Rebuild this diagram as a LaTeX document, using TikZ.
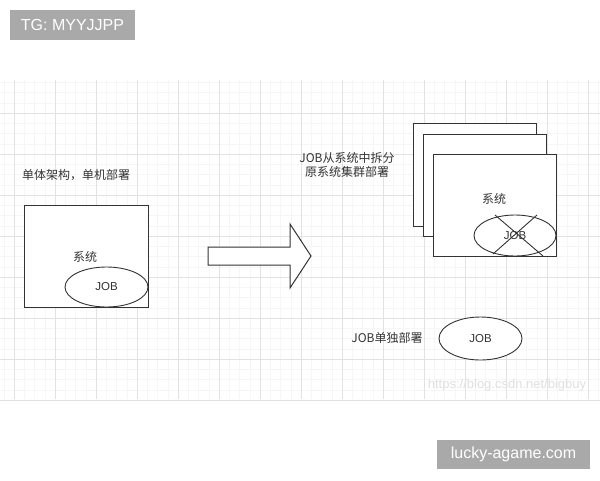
\documentclass[tikz,border=0pt]{standalone}
\usepackage{fontspec}
\setmainfont{Liberation Sans}
\newfontfamily\cjk{Noto Sans CJK SC}
\definecolor{tagfill}{HTML}{A9A9A9}
\definecolor{gridmajor}{HTML}{E2E2E2}
\definecolor{gridminor}{HTML}{F6F6F6}
\definecolor{inkline}{HTML}{333333}
\tikzset{
  sysbox/.style={draw=inkline, line width=1pt, fill=white, inner sep=0pt},
  jobshape/.style={ellipse, draw=inkline, line width=0.9pt, fill=white, inner sep=0pt,
    font=\fontsize{11.5}{13}\selectfont, text=inkline},
  cnlabel/.style={font=\fontsize{12}{14}\selectfont\cjk, text=inkline, inner sep=0pt},
  tagbox/.style={fill=tagfill, text=white, inner sep=0pt, font=\fontsize{16}{18}\selectfont},
}
\usetikzlibrary{shapes.geometric}
\begin{document}
\begin{tikzpicture}[x=1pt,y=-1pt]
      \useasboundingbox (0,0) rectangle (600,480);
      \fill[white] (0,0) rectangle (600,480);
      \begin{scope}[line width=0.4pt]
        \foreach \i in {-1,...,57}
          \draw[gridminor] ({14+10.25*\i},80) -- ({14+10.25*\i},399);
        \foreach \i in {-3,...,27}
          \draw[gridminor] (0,{113+10.25*\i}) -- (600,{113+10.25*\i});
      \end{scope}
      \begin{scope}[line width=0.6pt]
        \foreach \gx in {14,55,...,588}
          \draw[gridmajor] (\gx,80) -- (\gx,399);
        \foreach \gy in {113,154,...,400}
          \draw[gridmajor] (0,\gy) -- (600,\gy);
      \end{scope}
      \node[tagbox, minimum width=125pt, minimum height=30pt] (tag) at (72.5,25) {TG: MYYJJPP};
      \node[tagbox, minimum width=153pt, minimum height=29pt] (site) at (513.5,454.5) {lucky-agame.com};
      \node[font=\fontsize{13}{15}\selectfont, text=black!12] (mark) at (507,385) {https://blog.csdn.net/bigbuy};
      \node[cnlabel] (mono) at (76,175) {单体架构，单机部署};
      \node[sysbox, minimum width=124pt, minimum height=102pt] (sys) at (86,256) {};
      \node[cnlabel] (systxt) at (85,257) {系统};
      \node[jobshape, minimum width=83pt, minimum height=40pt] (job) at (106.5,287) {JOB};
      \draw[draw=inkline, line width=1pt, fill=white]
        (208,247) -- (290,247) -- (290,224) -- (311,256) -- (290,288) -- (290,265) -- (208,265) -- cycle;
      \node[cnlabel, align=center] (split) at (347,165) {JOB从系统中拆分\\原系统集群部署};
      \node[sysbox, minimum width=123pt, minimum height=103pt] (back) at (474.5,174.5) {};
      \node[sysbox, minimum width=123pt, minimum height=102pt] (mid) at (484.5,185) {};
      \node[sysbox, minimum width=123pt, minimum height=102pt] (front) at (494.5,205) {};
      \node[cnlabel] (systxt2) at (494,199) {系统};
      \node[jobshape, minimum width=82pt, minimum height=41pt] (job2) at (515,235.5) {JOB};
      \coordinate (c1) at (495,215);
      \coordinate (c2) at (543,256);
      \coordinate (c3) at (537,215);
      \coordinate (c4) at (493,254);
      \begin{scope}[draw=inkline, line width=0.9pt]
        \draw (c1) to (c2);
        \draw (c3) to (c4);
      \end{scope}
      \node[cnlabel] (solo) at (387,338) {JOB单独部署};
      \node[jobshape, minimum width=83pt, minimum height=43pt] (job3) at (480.5,338.5) {JOB};
    \end{tikzpicture}
\end{document}
